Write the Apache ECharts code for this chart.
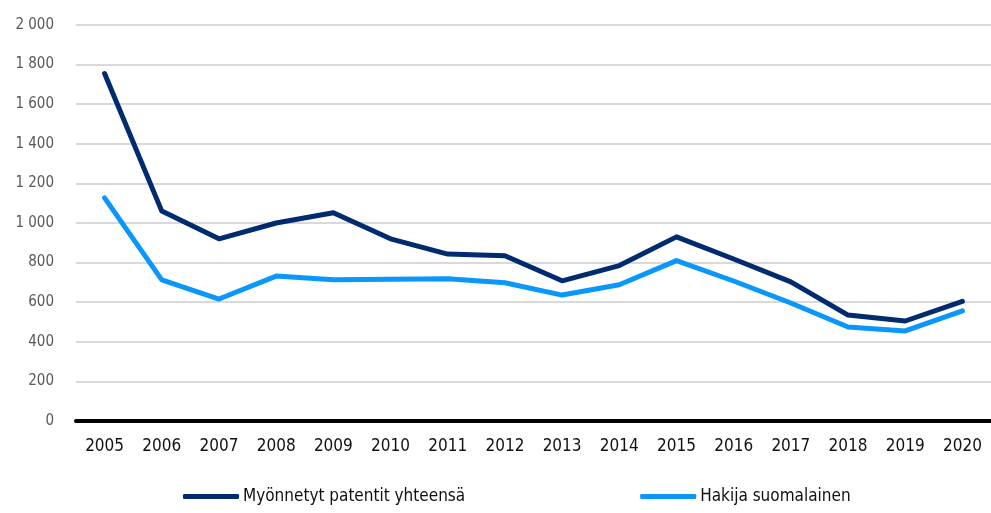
<!DOCTYPE html>
<html>
<head>
<meta charset="utf-8">
<script src="https://cdn.jsdelivr.net/npm/echarts@6/dist/echarts.min.js"></script>
<style>
  html, body { margin: 0; padding: 0; background: #fff; }
  #chart { width: 991px; height: 513px; }
</style>
</head>
<body>
<div id="chart"></div>
<script>
// Myönnetyt patentit 2005–2020
const years = ['2005','2006','2007','2008','2009','2010','2011','2012','2013','2014','2015','2016','2017','2018','2019','2020'];
const totalGranted = [1755, 1060, 920, 1000, 1052, 920, 843, 835, 708, 785, 930, 818, 703, 535, 505, 604];
const finnishApplicant = [1127, 713, 616, 732, 713, 716, 718, 698, 636, 688, 810, 707, 596, 475, 455, 556];

const FONT = '"Liberation Sans Narrow", "DejaVu Sans Condensed", "Roboto", sans-serif';
const NAVY = '#002b6e';
const BLUE = '#0a97fb';

const fmt = v => String(v).replace(/\B(?=(\d{3})+(?!\d))/g, ' ');

const chart = echarts.init(document.getElementById('chart'));
chart.setOption({
  animation: false,
  grid: { left: 76, right: 0, top: 25, bottom: 92 },
  legend: {
    bottom: 3,
    left: 178,
    itemWidth: 56,
    itemHeight: 5,
    itemGap: 175,
    icon: 'roundRect',
    textStyle: { fontFamily: FONT, fontSize: 17, color: '#111', padding: [0, 0, 0, -1] },
    data: ['Myönnetyt patentit yhteensä', 'Hakija suomalainen']
  },
  xAxis: {
    type: 'category',
    data: years,
    boundaryGap: true,
    axisLine: { show: true, lineStyle: { color: '#000', width: 4 } },
    axisTick: { show: false },
    axisLabel: { fontFamily: FONT, fontSize: 17, color: '#111', margin: 17 }
  },
  yAxis: {
    type: 'value',
    min: 0, max: 2000, interval: 200,
    axisLine: { show: false },
    axisTick: { show: false },
    splitLine: { lineStyle: { color: '#d9d9d9', width: 2 } },
    axisLabel: { fontFamily: FONT, fontSize: 15, color: '#595959', margin: 22, formatter: fmt }
  },
  series: [
    {
      name: 'Myönnetyt patentit yhteensä',
      type: 'line',
      data: totalGranted,
      symbol: 'none',
      color: NAVY,
      lineStyle: { width: 5, color: NAVY, cap: 'round', join: 'round' }
    },
    {
      name: 'Hakija suomalainen',
      type: 'line',
      data: finnishApplicant,
      symbol: 'none',
      color: BLUE,
      lineStyle: { width: 5, color: BLUE, cap: 'round', join: 'round' }
    }
  ]
});
</script>
</body>
</html>
